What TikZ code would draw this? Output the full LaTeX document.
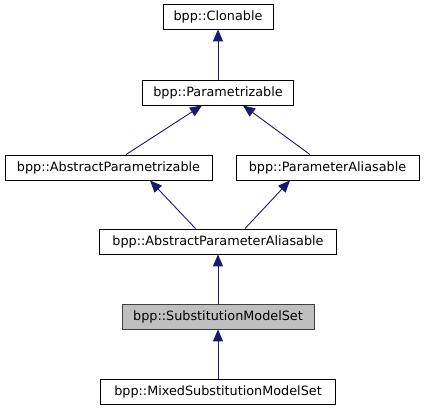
\documentclass[tikz,border=0pt]{standalone}
\usepackage{fontspec}
\setmainfont{DejaVu Sans}
\usetikzlibrary{arrows.meta,calc}
\definecolor{edgeblue}{HTML}{191970}
\definecolor{hlgray}{HTML}{BFBFBF}
\tikzset{
  cls/.style={draw=black, line width=0.9pt, fill=white, minimum height=25pt, inner sep=0pt,
    font=\fontsize{12.8}{15}\selectfont, anchor=center},
  hl/.style={cls, fill=hlgray, draw=black!75},
  inh/.style={draw=edgeblue, line width=0.9pt, {Triangle[length=12pt,width=10pt,fill=edgeblue]}-}
}
\begin{document}
\begin{tikzpicture}[x=1pt,y=-1pt]
\useasboundingbox (0,0) rectangle (424,411);
\node[cls, minimum width=110pt] (clon) at (218,16.5) {bpp::Clonable};
\node[cls, minimum width=151pt] (par) at (218,92.5) {bpp::Parametrizable};
\node[cls, minimum width=207pt] (apar) at (108.5,167.5) {bpp::AbstractParametrizable};
\node[cls, minimum width=183pt] (pal) at (327.5,167.5) {bpp::ParameterAliasable};
\node[cls, minimum width=237pt] (apal) at (218,241.5) {bpp::AbstractParameterAliasable};
\node[hl, minimum width=192pt] (sms) at (218,316.5) {bpp::SubstitutionModelSet};
\node[cls, minimum width=235pt] (msms) at (218,391.5) {bpp::MixedSubstitutionModelSet};

\draw[inh] (clon.south) -- (par.north);
\draw[inh] ($(par.south)+(-16,0)$) -- ($(apar.north)+(17.5,0)$);
\draw[inh] ($(par.south)+(25,0)$) -- ($(pal.north)+(-17.5,0)$);
\draw[inh] ($(apar.south)+(41.5,0)$) -- ($(apal.north)+(-22.5,0)$);
\draw[inh] ($(pal.south)+(-37.5,0)$) -- ($(apal.north)+(27,0)$);
\draw[inh] (apal.south) -- (sms.north);
\draw[inh] (sms.south) -- (msms.north);
\end{tikzpicture}
\end{document}
